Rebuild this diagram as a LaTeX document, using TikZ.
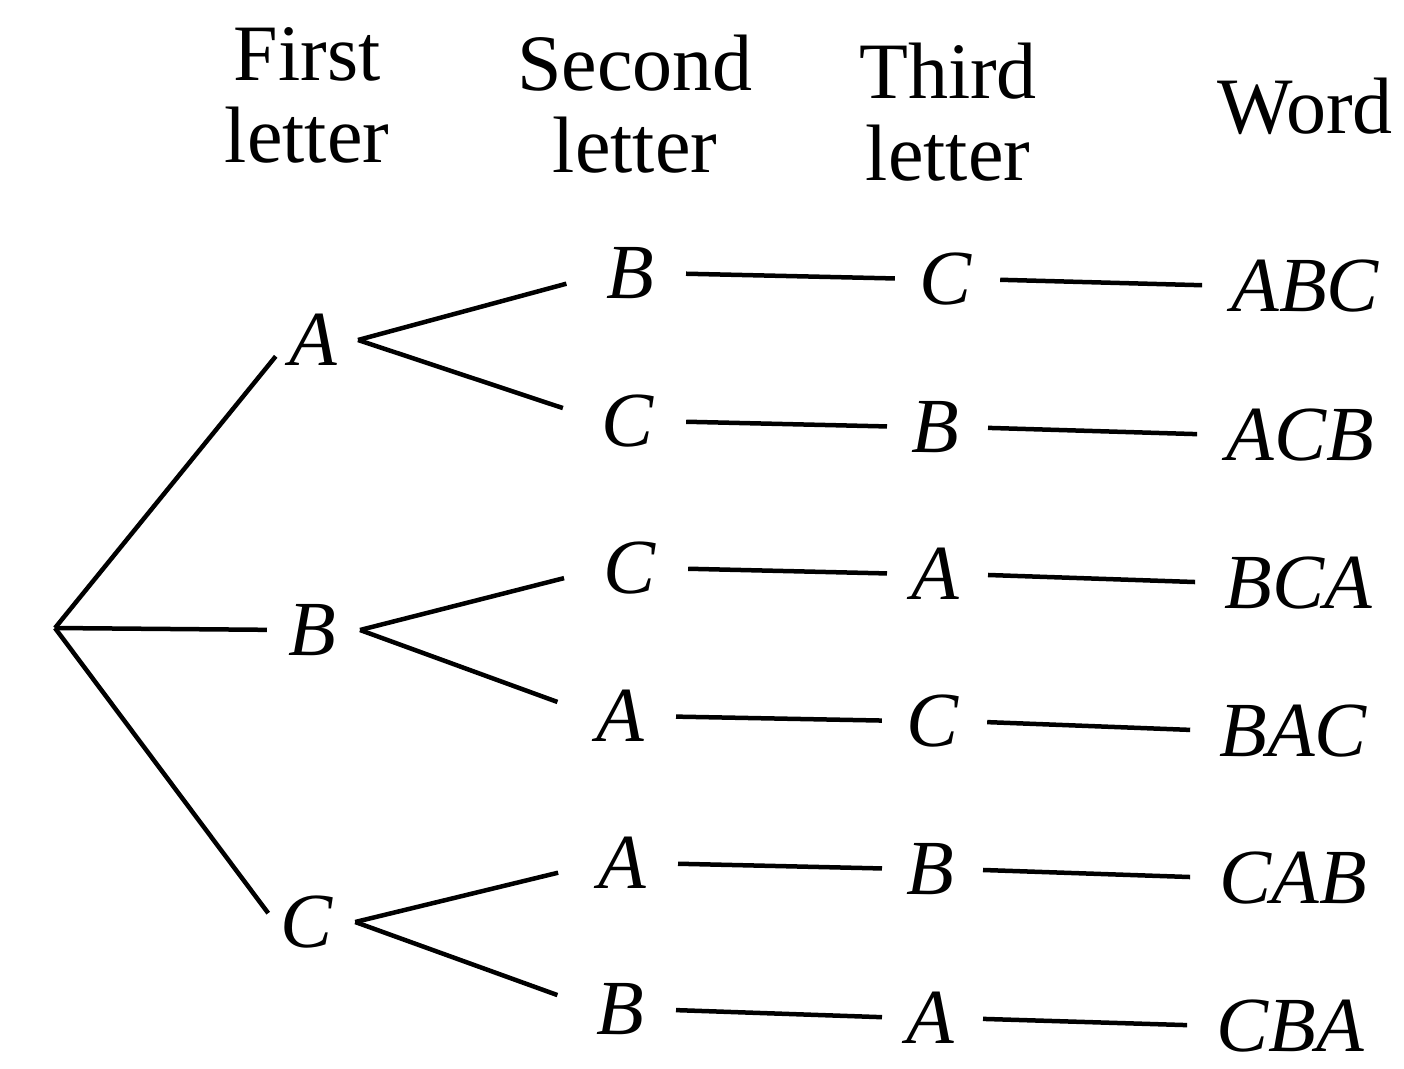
\documentclass[tikz,border=0pt]{standalone}
\usepackage{fontspec}
\setmainfont{Liberation Serif}
\begin{document}
\begin{tikzpicture}[x=1pt,y=-1pt,
  lbl/.style={inner sep=0pt,font=\fontsize{78}{80}\selectfont\itshape},
  hdr/.style={inner sep=0pt,align=center,anchor=base,font=\fontsize{80}{82}\selectfont},
  ln/.style={line width=4.5pt},
  lA/.style={ln,shorten >=21pt},
  lB/.style={ln,shorten >=41pt},
  lC/.style={ln,shorten <=32pt,shorten >=24pt},
  lD/.style={ln,shorten <=29pt,shorten >=29pt}]
\path[use as bounding box] (0,0) rectangle (1404,1068);
% headers
\node[hdr] (h1) at (307,162) {First\\letter};
\node[hdr] (h2) at (635,172) {Second\\letter};
\node[hdr] (h3) at (948,180) {Third\\letter};
\node[hdr] (h4) at (1305,133) {Word};
% root
\coordinate (r) at (55,628);
% first letters
\node[lbl] (A) at (313,340) {A};
\node[lbl] (B) at (312,630) {B};
\node[lbl] (C) at (307,922) {C};
% second letters
\node[lbl] (s1) at (630,273) {B};
\node[lbl] (s2) at (628,421) {C};
\node[lbl] (s3) at (630,568) {C};
\node[lbl] (s4) at (620,716) {A};
\node[lbl] (s5) at (622,863) {A};
\node[lbl] (s6) at (620,1009) {B};
% third letters
\node[lbl] (t1) at (945,279) {C};
\node[lbl] (t2) at (935,427) {B};
\node[lbl] (t3) at (935,574) {A};
\node[lbl] (t4) at (932,721) {C};
\node[lbl] (t5) at (930,869) {B};
\node[lbl] (t6) at (930,1018) {A};
% words
\node[lbl] (w1) at (1305,286) {ABC};
\node[lbl] (w2) at (1300,435) {ACB};
\node[lbl] (w3) at (1298,583) {BCA};
\node[lbl] (w4) at (1293,731) {BAC};
\node[lbl] (w5) at (1293,878) {CAB};
\node[lbl] (w6) at (1290,1026) {CBA};
% connectors
\draw[lA] (r) -- (A.west);
\draw[lA] (r) -- (B.west);
\draw[lA] (r) -- ([yshift=-8pt]C.west);
\draw[lB] ([xshift=21pt]A.east) -- (s1.west);
\draw[lB] ([xshift=21pt]A.east) -- (s2.west);
\draw[lB] ([xshift=24pt]B.east) -- (s3.west);
\draw[lB] ([xshift=24pt]B.east) -- (s4.west);
\draw[lB] ([xshift=22pt]C.east) -- (s5.west);
\draw[lB] ([xshift=22pt]C.east) -- (s6.west);
\draw[lC] (s1.east) -- (t1.west);
\draw[lC] (s2.east) -- (t2.west);
\draw[lC] (s3.east) -- (t3.west);
\draw[lC] (s4.east) -- (t4.west);
\draw[lC] (s5.east) -- (t5.west);
\draw[lC] (s6.east) -- (t6.west);
\draw[lD] (t1.east) -- (w1.west);
\draw[lD] (t2.east) -- (w2.west);
\draw[lD] (t3.east) -- (w3.west);
\draw[lD] (t4.east) -- (w4.west);
\draw[lD] (t5.east) -- (w5.west);
\draw[lD] (t6.east) -- (w6.west);
\end{tikzpicture}
\end{document}
